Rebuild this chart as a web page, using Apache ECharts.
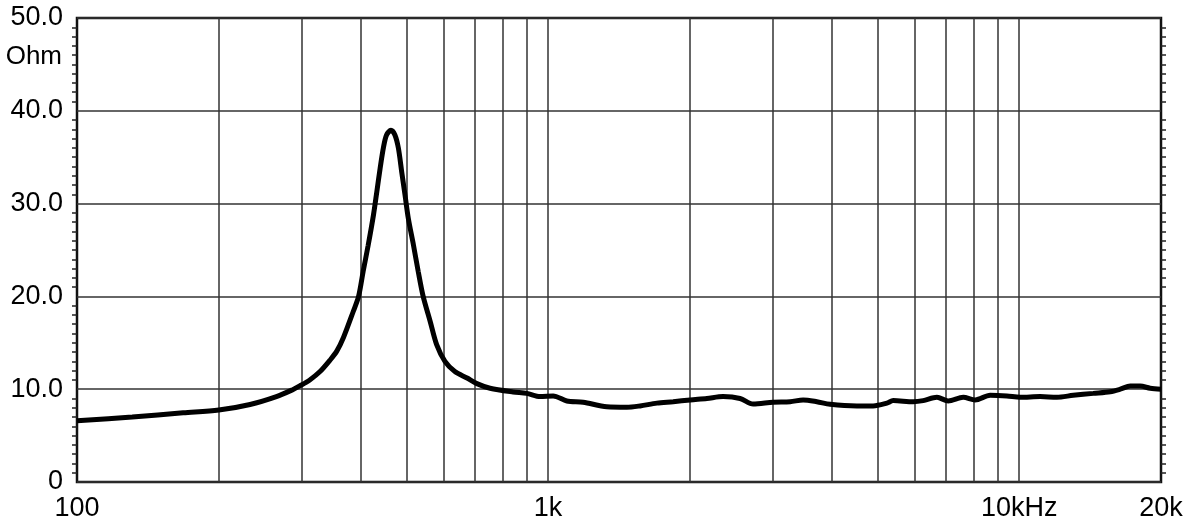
<!DOCTYPE html>
<html>
<head>
<meta charset="utf-8">
<script src="https://cdn.jsdelivr.net/npm/echarts@6/dist/echarts.min.js"></script>
<style>
html, body { margin: 0; padding: 0; background: #fff; }
#main { width: 1200px; height: 529px; }
</style>
</head>
<body>
<div id="main"></div>
<script>
// frequency (Hz) and impedance (Ohm)
var freqs = [100, 131, 168, 200, 233, 265, 287, 297, 312, 328, 344, 356, 368, 386, 396, 405, 415, 426, 433, 440, 447, 454, 464, 473, 481, 489, 497, 505, 518, 530, 543, 562, 580, 604, 634, 673, 706, 753, 843, 901, 962, 1025, 1096, 1187, 1332, 1469, 1568, 1702, 1843, 2002, 2173, 2352, 2556, 2724, 3004, 3265, 3478, 3720, 3969, 4523, 4898, 5238, 5402, 5956, 6255, 6689, 7070, 7605, 8064, 8678, 9416, 10050, 11080, 12020, 13020, 14360, 15610, 16390, 17210, 18070, 18970, 20000];
var ohms = [6.6, 7.0, 7.45, 7.75, 8.35, 9.2, 9.95, 10.35, 11.0, 11.9, 13.1, 14.1, 15.6, 18.4, 20.0, 22.7, 25.5, 28.8, 31.3, 33.8, 36.0, 37.4, 37.9, 37.4, 36.0, 33.4, 30.9, 28.4, 25.5, 22.7, 20.0, 17.3, 14.8, 13.0, 11.9, 11.2, 10.6, 10.1, 9.7, 9.55, 9.2, 9.27, 8.73, 8.6, 8.1, 8.05, 8.2, 8.5, 8.65, 8.84, 9.0, 9.2, 9.0, 8.4, 8.6, 8.65, 8.84, 8.65, 8.37, 8.2, 8.2, 8.5, 8.77, 8.65, 8.77, 9.13, 8.73, 9.13, 8.84, 9.34, 9.27, 9.13, 9.2, 9.13, 9.34, 9.55, 9.73, 10.0, 10.34, 10.34, 10.1, 10.0];

// vertical grid lines
var gridFreqs = [200, 300, 400, 500, 600, 700, 800, 900, 1000, 2000, 3000, 4000, 5000, 6000, 7000, 8000, 9000, 10000];
var xLabels = {100: '100', 1000: '1k', 10000: '10kHz', 20000: '20k'};
var yLabels = {0: '0', 10: '10.0', 20: '20.0', 30: '30.0', 40: '40.0', 50: '50.0'};

var myChart = echarts.init(document.getElementById('main'));

var points = [];
for (var i = 0; i < freqs.length; i++) {
    points.push([freqs[i], ohms[i]]);
}

var labelFont = {
    color: '#000',
    fontSize: 27,
    fontFamily: 'Liberation Sans, Arial, sans-serif'
};

var minorTick = { show: true, splitNumber: 10, length: 5, lineStyle: { color: '#222', width: 1.5 } };

option = {
    animation: false,
    backgroundColor: '#fff',
    title: {
        text: 'Ohm',
        right: 1138,
        top: 44,
        padding: 0,
        textStyle: { color: '#000', fontSize: 26, fontWeight: 'normal', fontFamily: 'Liberation Sans, Arial, sans-serif' }
    },
    grid: {
        left: 77,
        right: 39,
        top: 18,
        bottom: 47,
        show: true,
        borderColor: '#111',
        borderWidth: 2.5,
        backgroundColor: 'transparent'
    },
    xAxis: {
        type: 'log',
        logBase: 10,
        min: 100,
        max: 20000,
        axisLine: { show: false },
        axisTick: { show: false },
        splitLine: { show: false },
        axisLabel: Object.assign({
            margin: 13,
            showMinLabel: true,
            showMaxLabel: true,
            formatter: function (v) {
                return xLabels[Math.round(v)] || '';
            }
        }, labelFont)
    },
    yAxis: [
        {
            type: 'value',
            position: 'left',
            min: 0,
            max: 50,
            interval: 10,
            axisLine: { show: false },
            axisTick: { show: false },
            minorTick: minorTick,
            axisLabel: Object.assign({
                margin: 14,
                formatter: function (v) { return yLabels[v]; }
            }, labelFont),
            splitLine: { show: true, lineStyle: { color: '#333', width: 1.5 } }
        },
        {
            type: 'value',
            position: 'right',
            min: 0,
            max: 50,
            interval: 10,
            axisLine: { show: false },
            axisTick: { show: false },
            minorTick: minorTick,
            splitLine: { show: false },
            axisLabel: { show: false }
        }
    ],
    series: [
        {
            name: 'grid',
            type: 'line',
            data: [],
            z: 1,
            silent: true,
            markLine: {
                silent: true,
                symbol: ['none', 'none'],
                label: { show: false },
                lineStyle: { color: '#333', width: 1.5, type: 'solid' },
                data: gridFreqs.map(function (f) { return { xAxis: f }; })
            }
        },
        {
            name: 'Impedance',
            type: 'line',
            data: points,
            z: 5,
            smooth: 0.3,
            showSymbol: false,
            symbol: 'none',
            lineStyle: { color: '#000', width: 5 }
        }
    ]
};

myChart.setOption(option);
window.addEventListener('resize', function () {
    myChart.resize();
});
</script>
</body>
</html>
